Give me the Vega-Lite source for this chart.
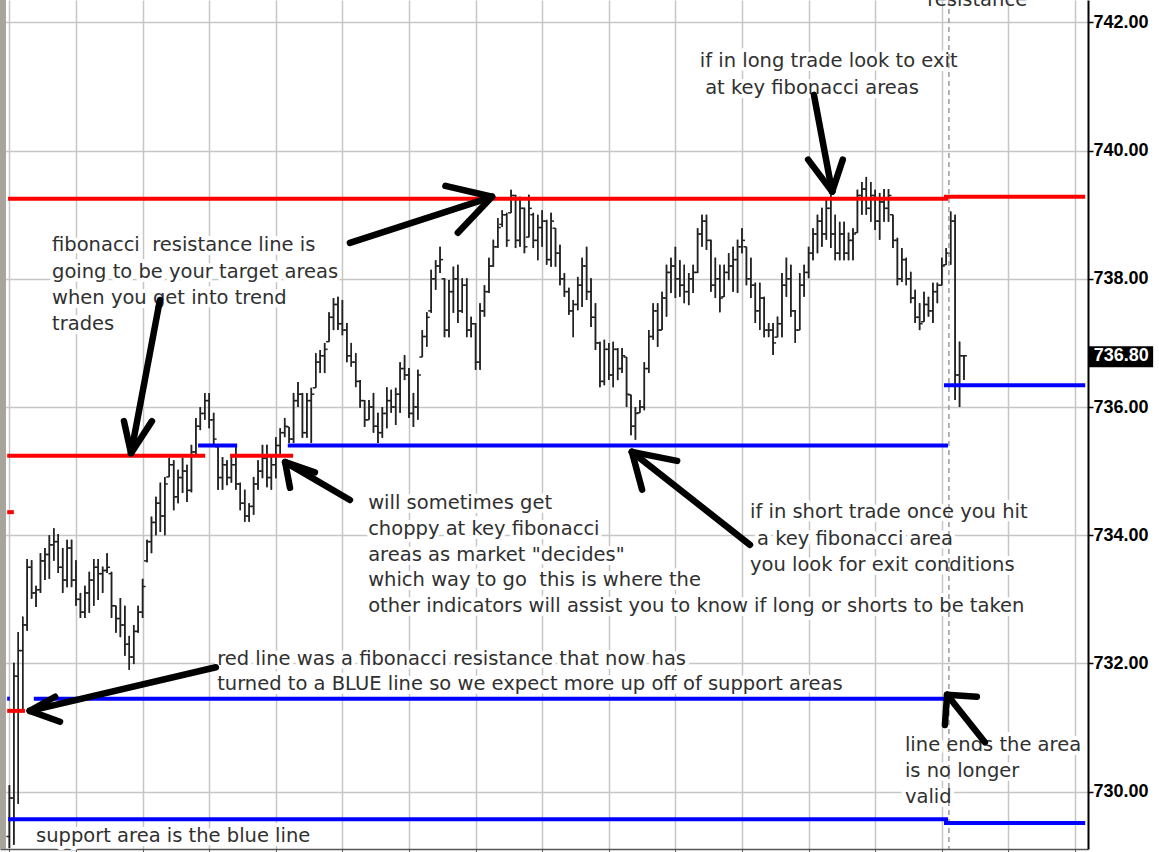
{
  "$schema": "https://vega.github.io/schema/vega-lite/v6.json",
  "width": 1088,
  "height": 849,
  "autosize": {"type": "none"},
  "padding": {"left": 0, "top": 0, "right": 71, "bottom": 3},
  "background": "white",
  "config": {"view": {"stroke": null}},
  "datasets": {
    "bars": [
      {"t":0,"h":730.10,"l":729.12,"o":729.3,"c":729.9},
      {"t":1,"h":732.01,"l":729.17,"o":729.9,"c":731.8},
      {"t":2,"h":732.49,"l":729.81,"o":731.8,"c":732.2},
      {"t":3,"h":732.73,"l":731.27,"o":732.2,"c":732.6},
      {"t":4,"h":733.63,"l":732.51,"o":732.6,"c":733.5},
      {"t":5,"h":733.61,"l":733.01,"o":733.5,"c":733.1},
      {"t":6,"h":733.21,"l":732.88,"o":733.1,"c":733.15},
      {"t":7,"h":733.72,"l":733.10,"o":733.15,"c":733.6},
      {"t":8,"h":733.80,"l":733.30,"o":733.6,"c":733.7},
      {"t":9,"h":734.00,"l":733.32,"o":733.7,"c":733.85},
      {"t":10,"h":734.11,"l":733.60,"o":733.85,"c":733.9},
      {"t":11,"h":734.02,"l":733.41,"o":733.9,"c":733.5},
      {"t":12,"h":733.80,"l":733.10,"o":733.5,"c":733.3},
      {"t":13,"h":733.93,"l":733.19,"o":733.3,"c":733.8},
      {"t":14,"h":733.93,"l":733.19,"o":733.8,"c":733.3},
      {"t":15,"h":733.61,"l":732.90,"o":733.3,"c":733.0},
      {"t":16,"h":733.10,"l":732.71,"o":733.0,"c":732.8},
      {"t":17,"h":733.21,"l":732.71,"o":732.8,"c":733.1},
      {"t":18,"h":733.43,"l":732.79,"o":733.1,"c":733.3},
      {"t":19,"h":733.63,"l":732.90,"o":733.3,"c":733.5},
      {"t":20,"h":733.63,"l":732.99,"o":733.5,"c":733.4},
      {"t":21,"h":733.51,"l":733.10,"o":733.4,"c":733.45},
      {"t":22,"h":733.72,"l":733.41,"o":733.45,"c":733.5},
      {"t":23,"h":733.43,"l":732.71,"o":733.4,"c":732.9},
      {"t":24,"h":732.90,"l":732.48,"o":732.9,"c":732.7},
      {"t":25,"h":733.02,"l":732.41,"o":732.7,"c":732.6},
      {"t":26,"h":732.90,"l":732.12,"o":732.6,"c":732.3},
      {"t":27,"h":732.43,"l":731.90,"o":732.3,"c":732.1},
      {"t":28,"h":732.60,"l":731.99,"o":732.1,"c":732.5},
      {"t":29,"h":732.90,"l":732.48,"o":732.5,"c":732.8},
      {"t":30,"h":733.32,"l":732.71,"o":732.8,"c":733.2},
      {"t":31,"h":733.93,"l":733.58,"o":733.6,"c":733.9},
      {"t":32,"h":734.29,"l":733.72,"o":733.9,"c":734.2},
      {"t":33,"h":734.60,"l":734.00,"o":734.2,"c":734.5},
      {"t":34,"h":734.82,"l":734.05,"o":734.5,"c":734.3},
      {"t":35,"h":734.91,"l":734.00,"o":734.3,"c":734.8},
      {"t":36,"h":735.21,"l":734.91,"o":734.91,"c":735.1},
      {"t":37,"h":735.17,"l":734.39,"o":735.1,"c":734.6},
      {"t":38,"h":735.02,"l":734.50,"o":734.6,"c":734.9},
      {"t":39,"h":735.21,"l":734.66,"o":734.9,"c":735.0},
      {"t":40,"h":735.10,"l":734.52,"o":735.0,"c":734.7},
      {"t":41,"h":735.41,"l":734.67,"o":734.7,"c":735.3},
      {"t":42,"h":735.83,"l":735.22,"o":735.3,"c":735.7},
      {"t":43,"h":736.00,"l":735.64,"o":735.7,"c":735.9},
      {"t":44,"h":736.22,"l":735.80,"o":735.9,"c":736.1},
      {"t":45,"h":736.22,"l":735.67,"o":736.1,"c":735.8},
      {"t":46,"h":735.91,"l":735.38,"o":735.8,"c":735.5},
      {"t":47,"h":735.38,"l":734.71,"o":735.38,"c":734.9},
      {"t":48,"h":735.22,"l":734.71,"o":734.9,"c":735.1},
      {"t":49,"h":735.17,"l":734.78,"o":735.1,"c":734.9},
      {"t":50,"h":735.22,"l":734.82,"o":734.9,"c":735.1},
      {"t":51,"h":735.38,"l":734.71,"o":735.1,"c":734.8},
      {"t":52,"h":734.82,"l":734.39,"o":734.8,"c":734.5},
      {"t":53,"h":734.71,"l":734.21,"o":734.5,"c":734.3},
      {"t":54,"h":734.50,"l":734.21,"o":734.3,"c":734.45},
      {"t":55,"h":734.91,"l":734.32,"o":734.45,"c":734.8},
      {"t":56,"h":735.17,"l":734.71,"o":734.8,"c":735.0},
      {"t":57,"h":735.41,"l":734.89,"o":735.0,"c":735.2},
      {"t":58,"h":735.41,"l":734.75,"o":735.2,"c":734.9},
      {"t":59,"h":735.25,"l":734.71,"o":734.9,"c":735.1},
      {"t":60,"h":735.53,"l":734.89,"o":735.1,"c":735.4},
      {"t":61,"h":735.67,"l":735.22,"o":735.4,"c":735.6},
      {"t":62,"h":735.83,"l":735.53,"o":735.6,"c":735.7},
      {"t":63,"h":735.69,"l":735.44,"o":735.69,"c":735.5},
      {"t":64,"h":736.22,"l":735.44,"o":735.5,"c":736.1},
      {"t":65,"h":736.39,"l":736.00,"o":736.1,"c":736.2},
      {"t":66,"h":736.22,"l":735.52,"o":736.2,"c":735.6},
      {"t":67,"h":736.22,"l":735.52,"o":735.6,"c":736.1},
      {"t":68,"h":736.30,"l":735.44,"o":736.1,"c":736.2},
      {"t":69,"h":736.84,"l":736.30,"o":736.3,"c":736.7},
      {"t":70,"h":736.89,"l":736.53,"o":736.7,"c":736.8},
      {"t":71,"h":737.00,"l":736.53,"o":736.8,"c":736.9},
      {"t":72,"h":737.48,"l":737.02,"o":737.02,"c":737.4},
      {"t":73,"h":737.70,"l":737.20,"o":737.4,"c":737.6},
      {"t":74,"h":737.72,"l":737.20,"o":737.6,"c":737.3},
      {"t":75,"h":737.67,"l":737.12,"o":737.3,"c":737.2},
      {"t":76,"h":737.31,"l":736.70,"o":737.2,"c":736.8},
      {"t":77,"h":737.00,"l":736.63,"o":736.8,"c":736.7},
      {"t":78,"h":736.84,"l":736.31,"o":736.7,"c":736.4},
      {"t":79,"h":736.42,"l":735.99,"o":736.4,"c":736.1},
      {"t":80,"h":736.11,"l":735.69,"o":736.1,"c":735.8},
      {"t":81,"h":736.11,"l":735.80,"o":735.8,"c":736.0},
      {"t":82,"h":736.22,"l":735.60,"o":736.0,"c":735.7},
      {"t":83,"h":735.91,"l":735.44,"o":735.7,"c":735.6},
      {"t":84,"h":736.00,"l":735.52,"o":735.6,"c":735.9},
      {"t":85,"h":736.31,"l":735.67,"o":735.9,"c":736.1},
      {"t":86,"h":736.27,"l":735.91,"o":736.1,"c":736.0},
      {"t":87,"h":736.30,"l":735.72,"o":736.0,"c":736.2},
      {"t":88,"h":736.70,"l":735.91,"o":736.2,"c":736.6},
      {"t":89,"h":736.81,"l":736.42,"o":736.6,"c":736.5},
      {"t":90,"h":736.61,"l":735.83,"o":736.5,"c":735.9},
      {"t":91,"h":736.22,"l":735.69,"o":735.9,"c":736.0},
      {"t":92,"h":736.58,"l":735.80,"o":736.0,"c":736.5},
      {"t":93,"h":737.20,"l":736.78,"o":736.78,"c":737.1},
      {"t":94,"h":737.48,"l":736.94,"o":737.1,"c":737.4},
      {"t":95,"h":738.14,"l":737.47,"o":737.5,"c":738.0},
      {"t":96,"h":738.29,"l":737.83,"o":738.0,"c":738.2},
      {"t":97,"h":738.50,"l":738.09,"o":738.2,"c":738.3},
      {"t":98,"h":738.01,"l":737.09,"o":738.0,"c":737.2},
      {"t":99,"h":737.98,"l":737.09,"o":737.2,"c":737.8},
      {"t":100,"h":738.19,"l":737.47,"o":737.8,"c":738.0},
      {"t":101,"h":738.22,"l":737.31,"o":738.0,"c":737.5},
      {"t":102,"h":738.01,"l":737.47,"o":737.5,"c":737.9},
      {"t":103,"h":738.01,"l":737.09,"o":737.9,"c":737.2},
      {"t":104,"h":737.41,"l":737.09,"o":737.2,"c":737.3},
      {"t":105,"h":737.31,"l":736.58,"o":737.3,"c":736.7},
      {"t":106,"h":737.62,"l":736.58,"o":736.7,"c":737.5},
      {"t":107,"h":737.90,"l":737.41,"o":737.5,"c":737.8},
      {"t":108,"h":738.33,"l":737.78,"o":737.8,"c":738.2},
      {"t":109,"h":738.61,"l":738.19,"o":738.2,"c":738.5},
      {"t":110,"h":738.95,"l":738.48,"o":738.5,"c":738.8},
      {"t":111,"h":739.07,"l":738.81,"o":738.85,"c":739.0},
      {"t":112,"h":739.03,"l":738.50,"o":739.0,"c":738.6},
      {"t":113,"h":739.39,"l":739.03,"o":739.03,"c":739.3},
      {"t":114,"h":739.31,"l":738.48,"o":739.3,"c":738.6},
      {"t":115,"h":739.28,"l":738.50,"o":738.6,"c":739.1},
      {"t":116,"h":739.11,"l":738.40,"o":739.1,"c":738.5},
      {"t":117,"h":739.31,"l":738.65,"o":738.65,"c":739.1},
      {"t":118,"h":739.03,"l":738.48,"o":739.0,"c":738.6},
      {"t":119,"h":739.00,"l":738.29,"o":738.6,"c":738.8},
      {"t":120,"h":739.07,"l":738.50,"o":738.8,"c":738.9},
      {"t":121,"h":738.92,"l":738.22,"o":738.9,"c":738.3},
      {"t":122,"h":739.03,"l":738.19,"o":738.3,"c":738.9},
      {"t":123,"h":738.79,"l":738.19,"o":738.79,"c":738.4},
      {"t":124,"h":738.53,"l":737.90,"o":738.4,"c":738.0},
      {"t":125,"h":738.09,"l":737.72,"o":738.0,"c":737.8},
      {"t":126,"h":737.86,"l":737.44,"o":737.8,"c":737.5},
      {"t":127,"h":737.67,"l":737.09,"o":737.5,"c":737.6},
      {"t":128,"h":738.03,"l":737.51,"o":737.6,"c":737.9},
      {"t":129,"h":738.33,"l":737.56,"o":737.9,"c":738.2},
      {"t":130,"h":738.50,"l":737.67,"o":738.2,"c":737.8},
      {"t":131,"h":738.01,"l":737.25,"o":737.8,"c":737.4},
      {"t":132,"h":737.62,"l":736.89,"o":737.4,"c":737.0},
      {"t":133,"h":737.02,"l":736.31,"o":737.0,"c":736.4},
      {"t":134,"h":737.05,"l":736.34,"o":736.4,"c":736.9},
      {"t":135,"h":737.00,"l":736.42,"o":736.9,"c":736.5},
      {"t":136,"h":737.02,"l":736.31,"o":736.5,"c":736.9},
      {"t":137,"h":736.92,"l":736.42,"o":736.9,"c":736.6},
      {"t":138,"h":736.92,"l":736.53,"o":736.6,"c":736.8},
      {"t":139,"h":736.78,"l":736.00,"o":736.78,"c":736.2},
      {"t":140,"h":736.19,"l":735.56,"o":736.19,"c":735.7},
      {"t":141,"h":736.00,"l":735.49,"o":735.7,"c":735.9},
      {"t":142,"h":736.11,"l":735.91,"o":735.91,"c":736.0},
      {"t":143,"h":736.70,"l":735.95,"o":736.0,"c":736.6},
      {"t":144,"h":737.20,"l":736.53,"o":736.6,"c":737.1},
      {"t":145,"h":737.62,"l":737.05,"o":737.1,"c":737.5},
      {"t":146,"h":737.62,"l":736.94,"o":737.5,"c":737.2},
      {"t":147,"h":737.80,"l":737.20,"o":737.2,"c":737.7},
      {"t":148,"h":738.22,"l":737.41,"o":737.7,"c":738.1},
      {"t":149,"h":738.33,"l":737.78,"o":738.1,"c":738.2},
      {"t":150,"h":738.50,"l":737.70,"o":738.2,"c":738.0},
      {"t":151,"h":738.29,"l":737.72,"o":738.0,"c":737.9},
      {"t":152,"h":738.22,"l":737.62,"o":737.9,"c":737.8},
      {"t":153,"h":738.09,"l":737.59,"o":737.8,"c":738.0},
      {"t":154,"h":738.22,"l":737.78,"o":738.0,"c":738.1},
      {"t":155,"h":738.79,"l":738.09,"o":738.1,"c":738.7},
      {"t":156,"h":739.00,"l":738.50,"o":738.7,"c":738.9},
      {"t":157,"h":739.00,"l":738.45,"o":738.9,"c":738.6},
      {"t":158,"h":738.61,"l":737.80,"o":738.6,"c":737.9},
      {"t":159,"h":738.33,"l":737.70,"o":737.9,"c":738.0},
      {"t":160,"h":738.22,"l":737.48,"o":738.0,"c":737.7},
      {"t":161,"h":738.22,"l":737.72,"o":737.72,"c":738.1},
      {"t":162,"h":738.40,"l":737.98,"o":738.1,"c":738.2},
      {"t":163,"h":738.50,"l":737.80,"o":738.2,"c":738.3},
      {"t":164,"h":738.61,"l":737.78,"o":738.3,"c":738.5},
      {"t":165,"h":738.79,"l":738.40,"o":738.5,"c":738.6},
      {"t":166,"h":738.50,"l":737.90,"o":738.5,"c":738.0},
      {"t":167,"h":738.33,"l":737.70,"o":738.0,"c":737.9},
      {"t":168,"h":737.94,"l":737.31,"o":737.9,"c":737.5},
      {"t":169,"h":737.94,"l":737.20,"o":737.5,"c":737.7},
      {"t":170,"h":737.72,"l":737.09,"o":737.7,"c":737.2},
      {"t":171,"h":737.31,"l":737.09,"o":737.2,"c":737.2},
      {"t":172,"h":737.31,"l":736.81,"o":737.2,"c":737.0},
      {"t":173,"h":737.41,"l":737.09,"o":737.09,"c":737.3},
      {"t":174,"h":738.09,"l":737.09,"o":737.3,"c":737.9},
      {"t":175,"h":738.33,"l":737.72,"o":737.9,"c":738.0},
      {"t":176,"h":738.22,"l":737.41,"o":738.0,"c":737.5},
      {"t":177,"h":737.51,"l":737.00,"o":737.5,"c":737.2},
      {"t":178,"h":738.09,"l":737.20,"o":737.2,"c":737.9},
      {"t":179,"h":738.22,"l":737.72,"o":737.9,"c":738.1},
      {"t":180,"h":738.50,"l":738.01,"o":738.1,"c":738.4},
      {"t":181,"h":738.79,"l":738.29,"o":738.4,"c":738.7},
      {"t":182,"h":739.00,"l":738.40,"o":738.7,"c":738.9},
      {"t":183,"h":739.11,"l":738.50,"o":738.9,"c":738.7},
      {"t":184,"h":739.26,"l":738.61,"o":738.7,"c":739.1},
      {"t":185,"h":739.31,"l":738.48,"o":739.1,"c":738.7},
      {"t":186,"h":739.00,"l":738.29,"o":738.7,"c":738.4},
      {"t":187,"h":738.89,"l":738.29,"o":738.4,"c":738.7},
      {"t":188,"h":738.89,"l":738.29,"o":738.7,"c":738.4},
      {"t":189,"h":738.72,"l":738.29,"o":738.4,"c":738.6},
      {"t":190,"h":738.79,"l":738.29,"o":738.6,"c":738.7},
      {"t":191,"h":739.39,"l":738.72,"o":738.72,"c":739.3},
      {"t":192,"h":739.51,"l":739.00,"o":739.3,"c":739.4},
      {"t":193,"h":739.59,"l":739.00,"o":739.4,"c":739.1},
      {"t":194,"h":739.51,"l":738.89,"o":739.1,"c":739.3},
      {"t":195,"h":739.39,"l":738.76,"o":739.3,"c":738.9},
      {"t":196,"h":739.34,"l":738.61,"o":738.9,"c":739.2},
      {"t":197,"h":739.40,"l":738.89,"o":739.2,"c":739.1},
      {"t":198,"h":739.40,"l":738.89,"o":739.1,"c":739.3},
      {"t":199,"h":739.00,"l":738.48,"o":739.0,"c":738.6},
      {"t":200,"h":738.64,"l":737.90,"o":738.6,"c":738.0},
      {"t":201,"h":738.48,"l":737.95,"o":738.0,"c":738.3},
      {"t":202,"h":738.33,"l":737.90,"o":738.3,"c":738.0},
      {"t":203,"h":738.11,"l":737.62,"o":738.0,"c":737.7},
      {"t":204,"h":737.83,"l":737.31,"o":737.7,"c":737.4},
      {"t":205,"h":737.62,"l":737.20,"o":737.4,"c":737.3},
      {"t":206,"h":737.80,"l":737.33,"o":737.33,"c":737.6},
      {"t":207,"h":737.72,"l":737.41,"o":737.6,"c":737.5},
      {"t":208,"h":737.94,"l":737.31,"o":737.5,"c":737.8},
      {"t":209,"h":737.94,"l":737.62,"o":737.8,"c":737.9},
      {"t":210,"h":738.33,"l":737.90,"o":737.9,"c":738.2},
      {"t":211,"h":738.48,"l":738.22,"o":738.22,"c":738.4},
      {"t":212,"h":739.05,"l":738.22,"o":738.4,"c":738.9},
      {"t":213,"h":739.00,"l":736.11,"o":738.9,"c":736.5},
      {"t":214,"h":737.02,"l":736.00,"o":736.5,"c":736.8},
      {"t":215,"h":736.81,"l":736.42,"o":736.8,"c":736.8}
    ],
    "levels": [
      {"x1":-0.3,"x2":211.4,"v":739.25,"kind":"resistance"},
      {"x1":210.5,"x2":242.3,"v":739.28,"kind":"resistance"},
      {"x1":-0.5,"x2":44.1,"v":735.24,"kind":"resistance"},
      {"x1":49.7,"x2":63.9,"v":735.24,"kind":"resistance"},
      {"x1":-0.5,"x2":1.0,"v":734.36,"kind":"resistance"},
      {"x1":-0.5,"x2":3.5,"v":731.26,"kind":"resistance"},
      {"x1":42.5,"x2":51.3,"v":735.40,"kind":"support"},
      {"x1":62.7,"x2":211.4,"v":735.40,"kind":"support"},
      {"x1":210.5,"x2":242.3,"v":736.34,"kind":"support"},
      {"x1":5.5,"x2":211.4,"v":731.45,"kind":"support"},
      {"x1":-0.5,"x2":0.1,"v":731.45,"kind":"support"},
      {"x1":-0.3,"x2":211.4,"v":729.57,"kind":"support"},
      {"x1":210.5,"x2":242.3,"v":729.51,"kind":"support"}
    ],
    "arrows": [
      {"x1":76.7,"y1":738.56,"x2":108.7,"y2":739.28},
      {"x1":108.7,"y1":739.28,"x2":98.2,"y2":739.45},
      {"x1":108.7,"y1":739.28,"x2":101.0,"y2":738.72},
      {"x1":33.9,"y1":737.67,"x2":27.4,"y2":735.28},
      {"x1":27.4,"y1":735.28,"x2":25.8,"y2":735.78},
      {"x1":27.4,"y1":735.28,"x2":32.1,"y2":735.78},
      {"x1":76.7,"y1":734.55,"x2":62.1,"y2":735.14},
      {"x1":62.1,"y1":735.14,"x2":63.2,"y2":734.74},
      {"x1":62.1,"y1":735.14,"x2":68.8,"y2":734.98},
      {"x1":166.8,"y1":733.85,"x2":140.2,"y2":735.30},
      {"x1":140.2,"y1":735.30,"x2":142.5,"y2":734.71},
      {"x1":140.2,"y1":735.30,"x2":150.4,"y2":735.16},
      {"x1":181.2,"y1":740.87,"x2":185.3,"y2":739.36},
      {"x1":185.3,"y1":739.36,"x2":179.9,"y2":739.86},
      {"x1":185.3,"y1":739.36,"x2":187.7,"y2":739.86},
      {"x1":46.5,"y1":731.94,"x2":4.6,"y2":731.26},
      {"x1":4.6,"y1":731.26,"x2":11.4,"y2":731.09},
      {"x1":4.6,"y1":731.26,"x2":10.3,"y2":731.48},
      {"x1":219.7,"y1":730.77,"x2":211.2,"y2":731.51},
      {"x1":211.2,"y1":731.51,"x2":217.9,"y2":731.48},
      {"x1":211.2,"y1":731.51,"x2":210.7,"y2":731.04}
    ],
    "notes": [
      {"t":9.6,"v":738.53,"text":"fibonacci\u00a0 resistance line is"},
      {"t":9.6,"v":738.11,"text":"going to be your target areas"},
      {"t":9.6,"v":737.70,"text":"when you get into trend"},
      {"t":9.6,"v":737.30,"text":"trades"},
      {"t":155.5,"v":741.40,"text":"if in long trade look to exit"},
      {"t":156.7,"v":740.98,"text":"at key fibonacci areas"},
      {"t":80.8,"v":734.50,"text":"will sometimes get"},
      {"t":80.8,"v":734.10,"text":"choppy at key fibonacci"},
      {"t":80.8,"v":733.69,"text":"areas as market \"decides\""},
      {"t":80.8,"v":733.30,"text":"which way to go\u00a0 this is where the"},
      {"t":80.8,"v":732.90,"text":"other indicators will assist you to know if long or shorts to be taken"},
      {"t":166.8,"v":734.36,"text":"if in short trade once you hit"},
      {"t":168.4,"v":733.94,"text":"a key fibonacci area"},
      {"t":166.8,"v":733.54,"text":"you look for exit conditions"},
      {"t":46.8,"v":732.07,"text":"red line was a fibonacci resistance that now has"},
      {"t":46.8,"v":731.68,"text":"turned to a BLUE line so we expect more up off of support areas"},
      {"t":201.7,"v":730.73,"text":"line ends the area"},
      {"t":201.7,"v":730.32,"text":"is no longer"},
      {"t":201.7,"v":729.92,"text":"valid"},
      {"t":6.0,"v":729.31,"text":"support area is the blue line"}
    ],
    "cut": [
      {"t":206.7,"v":742.25,"text":"resistance"}
    ],
    "last": [
      {"v":736.80,"label":"736.80"}
    ]
  },
  "layer": [
    {
      "data": {"name": "bars"},
      "mark": {"type": "rule", "strokeWidth": 1.5, "color": "#222222"},
      "encoding": {
        "x": {"field": "t", "type": "quantitative", "title": null,
          "scale": {"domain": [-2.117, 242.93], "nice": false, "zero": false},
          "axis": {"orient": "bottom", "values": [0,15,30,45,60,75,90,105,120,135,150,165,180,195,210,225,240],
            "labels": false, "title": null, "grid": true, "gridColor": "#c6c6c6", "gridWidth": 1.5,
            "tickSize": 3, "tickColor": "#555555", "domainColor": "#555555", "domainWidth": 1.5}},
        "y": {"field": "l", "type": "quantitative", "title": null,
          "scale": {"domain": [729.105, 742.35], "nice": false, "zero": false},
          "axis": {"orient": "right", "values": [730,732,734,736,738,740,742], "format": ".2f", "title": null,
            "grid": true, "gridColor": "#c6c6c6", "gridWidth": 1.5,
            "tickSize": 5, "tickColor": "#000000", "tickWidth": 1.5, "domainColor": "#000000", "domainWidth": 2,
            "labelFont": "Liberation Sans", "labelFontSize": 18, "labelFontWeight": "bold", "labelColor": "#000000",
            "labelPadding": 0}},
        "y2": {"field": "h"}
      }
    },
    {
      "data": {"name": "notes"},
      "mark": {"type": "text", "align": "left", "baseline": "middle", "font": "DejaVu Sans", "fontSize": 19.5,
        "stroke": "white", "strokeWidth": 8, "strokeJoin": "round", "fill": "white"},
      "encoding": {
        "x": {"field": "t", "type": "quantitative", "title": null},
        "y": {"field": "v", "type": "quantitative", "title": null},
        "text": {"field": "text"}
      }
    },
    {
      "data": {"name": "bars"},
      "mark": {"type": "rule", "strokeWidth": 1.5, "color": "#222222"},
      "encoding": {
        "x": {"field": "t", "type": "quantitative", "title": null},
        "y": {"field": "l", "type": "quantitative", "title": null},
        "y2": {"field": "h"}
      }
    },
    {
      "data": {"name": "bars"},
      "mark": {"type": "tick", "orient": "horizontal", "size": 3, "thickness": 1.5, "xOffset": -1.5, "color": "#222222", "opacity": 1},
      "encoding": {
        "x": {"field": "t", "type": "quantitative", "title": null},
        "y": {"field": "o", "type": "quantitative", "title": null}
      }
    },
    {
      "data": {"name": "bars"},
      "mark": {"type": "tick", "orient": "horizontal", "size": 3, "thickness": 1.5, "xOffset": 1.5, "color": "#222222", "opacity": 1},
      "encoding": {
        "x": {"field": "t", "type": "quantitative", "title": null},
        "y": {"field": "c", "type": "quantitative", "title": null}
      }
    },
    {
      "data": {"values": [{}]},
      "mark": {"type": "rule", "strokeWidth": 1.5, "color": "#9a9a9a", "strokeDash": [5, 4]},
      "encoding": {"x": {"datum": 211.6, "type": "quantitative", "title": null}}
    },
    {
      "data": {"values": [{}]},
      "mark": {"type": "rule", "strokeWidth": 6, "color": "#a8a49c"},
      "encoding": {"x": {"datum": -1.45, "type": "quantitative", "title": null}}
    },
    {
      "data": {"name": "levels"},
      "mark": {"type": "rule", "strokeWidth": 4},
      "encoding": {
        "x": {"field": "x1", "type": "quantitative", "title": null},
        "x2": {"field": "x2"},
        "y": {"field": "v", "type": "quantitative", "title": null},
        "color": {"field": "kind", "type": "nominal", "legend": null,
          "scale": {"domain": ["resistance", "support"], "range": ["#ff0000", "#0000ff"]}}
      }
    },
    {
      "data": {"name": "notes"},
      "mark": {"type": "text", "align": "left", "baseline": "middle", "font": "DejaVu Sans", "fontSize": 19.5, "fill": "#303030"},
      "encoding": {
        "x": {"field": "t", "type": "quantitative", "title": null},
        "y": {"field": "v", "type": "quantitative", "title": null},
        "text": {"field": "text"}
      }
    },
    {
      "data": {"name": "cut"},
      "mark": {"type": "text", "align": "left", "baseline": "alphabetic", "font": "DejaVu Sans", "fontSize": 19.5, "fill": "#303030"},
      "encoding": {
        "x": {"field": "t", "type": "quantitative", "title": null},
        "y": {"field": "v", "type": "quantitative", "title": null},
        "text": {"field": "text"}
      }
    },
    {
      "data": {"name": "arrows"},
      "mark": {"type": "rule", "strokeWidth": 6.5, "strokeCap": "round", "color": "#000000"},
      "encoding": {
        "x": {"field": "x1", "type": "quantitative", "title": null},
        "x2": {"field": "x2"},
        "y": {"field": "y1", "type": "quantitative", "title": null},
        "y2": {"field": "y2"}
      }
    },
    {
      "data": {"name": "last"},
      "mark": {"type": "rect", "color": "#000000", "clip": false},
      "encoding": {
        "x": {"datum": 243.0, "type": "quantitative", "title": null},
        "x2": {"datum": 257.6},
        "y": {"datum": 736.95, "type": "quantitative", "title": null},
        "y2": {"datum": 736.62}
      }
    },
    {
      "data": {"name": "last"},
      "mark": {"type": "text", "align": "center", "baseline": "middle", "font": "Liberation Sans", "fontSize": 18, "fontWeight": "bold", "fill": "#ffffff"},
      "encoding": {
        "x": {"datum": 250.4, "type": "quantitative", "title": null},
        "y": {"field": "v", "type": "quantitative", "title": null},
        "text": {"field": "label"}
      }
    }
  ]
}
